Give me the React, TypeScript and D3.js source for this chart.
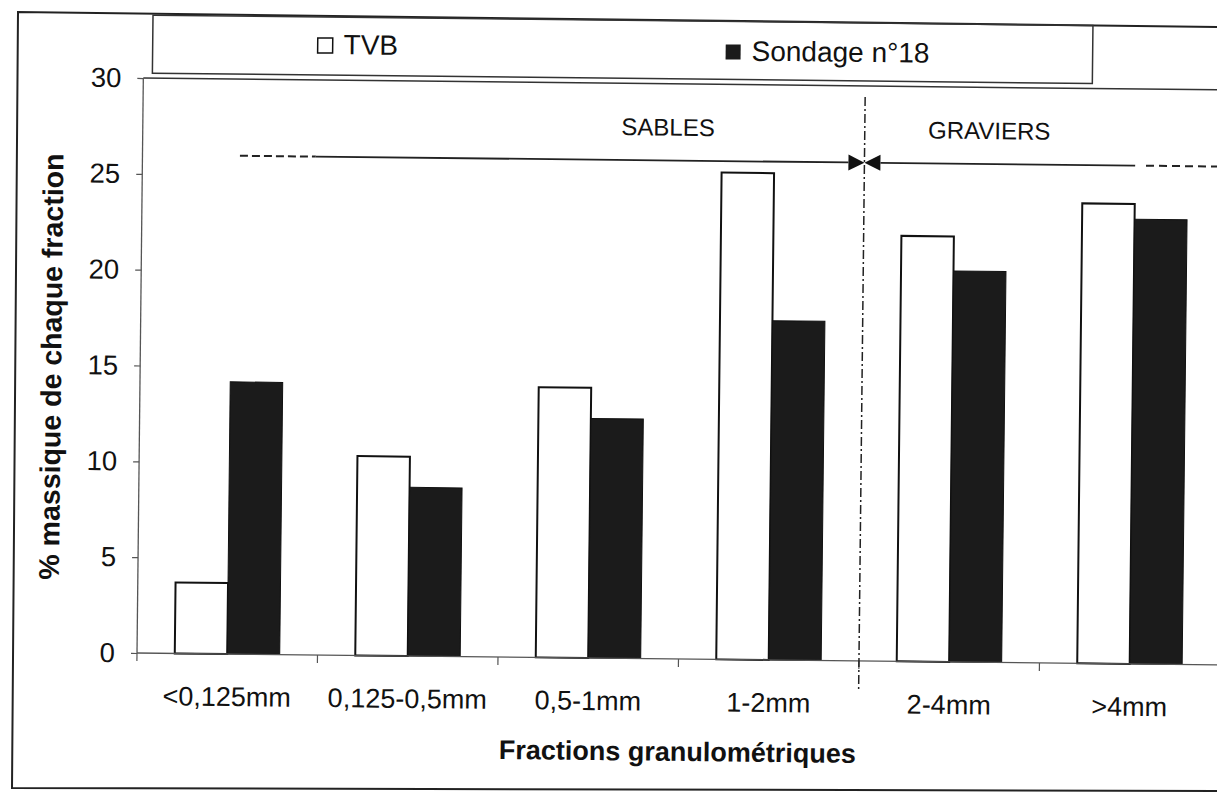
import * as React from 'react'
import * as d3 from 'd3'

const width = 1217
const height = 793
const font = '"Liberation Sans", Arial, sans-serif'

const categories = ['<0,125mm', '0,125-0,5mm', '0,5-1mm', '1-2mm', '2-4mm', '>4mm']
const seriesNames = ['TVB', 'Sondage n°18']
const tvb = [3.7, 10.4, 14.1, 25.4, 22.2, 24.0]
const sondage18 = [14.2, 8.8, 12.5, 17.7, 20.4, 23.2]
const yTicks = [0, 5, 10, 15, 20, 25, 30]

// sables / graviers annotation
const zoneLabels = ['SABLES', 'GRAVIERS']
const zoneLevel = 26
const zoneSplit = 4 // between 1-2mm and 2-4mm

const plot = { left: 137, right: 1220, top: 78, bottom: 653 }
const tilt = 0.63 // scanned page is slightly rotated

const App = () => {
  const x = d3.scaleBand().domain(categories).range([plot.left, plot.right])
  const sub = d3.scaleBand().domain(seriesNames).range([0, x.step()]).paddingOuter(0.72)
  const y = d3.scaleLinear().domain([0, 30]).range([plot.bottom, plot.top])
  const u = (k: number) => plot.left + k * x.step()

  const yRef = React.useRef(null)

  React.useEffect(() => {
    const g = d3.select(yRef.current)
    g.call(d3.axisLeft(y).tickValues(yTicks).tickSize(6).tickPadding(16).tickSizeOuter(0))
    g.select('.domain').remove()
    g.selectAll('.tick line').attr('stroke', '#555').attr('stroke-width', 1.2)
    g.selectAll('.tick text')
      .attr('font-size', 27.5)
      .attr('font-family', font)
      .attr('fill', '#111')
  }, [])

  const zx = u(zoneSplit)
  const zy = y(zoneLevel)
  const arrow = 16

  return (
    <svg
      width={width}
      height={height}
      style={{ position: 'absolute', left: 0, top: 0, background: '#fff' }}
      fontFamily={font}
    >
      {/* outer frame */}
      <path d="M1217,27 L18,12 L12,788 L1217,791" fill="none" stroke="#222" strokeWidth={2} />

      <g transform={`rotate(${tilt} ${plot.left} ${plot.bottom})`}>
        {/* legend */}
        <rect x={146} y={15} width={940} height={58} fill="none" stroke="#333" strokeWidth={1.5} />
        <rect x={311} y={36} width={15} height={15} fill="#fff" stroke="#111" strokeWidth={1.5} />
        <text x={337} y={52} fontSize={28} fill="#111">TVB</text>
        <rect x={719} y={38} width={15} height={15} fill="#1b1b1b" />
        <text x={745} y={54} fontSize={28} fill="#111">Sondage n°18</text>

        {/* plot top border */}
        <line x1={plot.left} x2={plot.right} y1={plot.top} y2={plot.top} stroke="#333" strokeWidth={1.5} />

        {/* bars */}
        {categories.map((c, i) => (
          <g key={c}>
            <rect
              x={x(c) + sub(seriesNames[0])}
              y={y(tvb[i])}
              width={sub.bandwidth()}
              height={y(0) - y(tvb[i])}
              fill="#fff"
              stroke="#111"
              strokeWidth={2}
            />
            <rect
              x={x(c) + sub(seriesNames[1])}
              y={y(sondage18[i])}
              width={sub.bandwidth()}
              height={y(0) - y(sondage18[i])}
              fill="#1b1b1b"
              stroke="#111"
              strokeWidth={1}
            />
          </g>
        ))}

        {/* axes */}
        <line x1={plot.left} x2={plot.left} y1={plot.top} y2={plot.bottom} stroke="#555" strokeWidth={1.3} />
        <line x1={plot.left} x2={plot.right} y1={plot.bottom} y2={plot.bottom} stroke="#555" strokeWidth={1.3} />
        <g ref={yRef} transform={`translate(${plot.left},0)`} />
        {d3.range(categories.length + 1).map(k => (
          <line key={k} x1={u(k)} x2={u(k)} y1={plot.bottom} y2={plot.bottom + 8} stroke="#555" strokeWidth={1.2} />
        ))}
        {categories.map(c => (
          <text key={c} x={x(c) + x.bandwidth() / 2} y={705} textAnchor="middle" fontSize={27} fill="#111">
            {c}
          </text>
        ))}

        {/* titles */}
        <text x={u(3)} y={755} textAnchor="middle" fontSize={27} fontWeight="bold" fill="#111">
          Fractions granulométriques
        </text>
        <text
          transform={`translate(58,${(plot.top + plot.bottom) / 2 + 2}) rotate(-90)`}
          textAnchor="middle"
          fontSize={28.5}
          fontWeight="bold"
          fill="#111"
        >
          % massique de chaque fraction
        </text>

        {/* sables / graviers separation */}
        <line x1={zx} x2={zx} y1={plot.top + 11} y2={plot.bottom + 28} stroke="#222" strokeWidth={1.5} strokeDasharray="9 3 2 3" />
        <line x1={u(0.54)} x2={u(0.96)} y1={zy} y2={zy} stroke="#222" strokeWidth={2} strokeDasharray="8 4" />
        <line x1={u(0.96)} x2={zx - arrow} y1={zy} y2={zy} stroke="#222" strokeWidth={1.8} />
        <path d={`M${zx},${zy} L${zx - arrow},${zy - 8} L${zx - arrow},${zy + 8} Z`} fill="#111" />
        <path d={`M${zx},${zy} L${zx + arrow},${zy - 8} L${zx + arrow},${zy + 8} Z`} fill="#111" />
        <line x1={zx + arrow} x2={u(5.5)} y1={zy} y2={zy} stroke="#222" strokeWidth={1.8} />
        <line x1={u(5.56)} x2={u(6.3)} y1={zy} y2={zy} stroke="#222" strokeWidth={2} strokeDasharray="8 5" />
        <text x={u(2.91)} y={y(27.3)} textAnchor="middle" fontSize={24} fill="#111">{zoneLabels[0]}</text>
        <text x={u(4.69)} y={y(27.3)} textAnchor="middle" fontSize={24} fill="#111">{zoneLabels[1]}</text>
      </g>
    </svg>
  )
}

export default App
